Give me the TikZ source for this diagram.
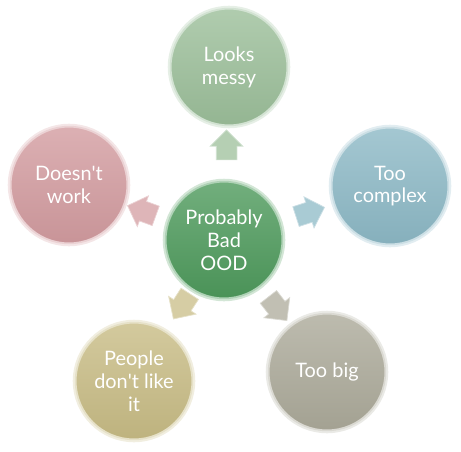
\documentclass[tikz,border=0pt]{standalone}
\usepackage{fontspec}
\setmainfont{Lato}
\usetikzlibrary{shapes.arrows,calc}
\definecolor{oodgreen}{HTML}{4E9A5C}
\definecolor{messygreen}{HTML}{9CBF9A}
\definecolor{complexblue}{HTML}{8DB9C6}
\definecolor{workpink}{HTML}{D39CA0}
\definecolor{peoplekhaki}{HTML}{C8BC85}
\definecolor{biggray}{HTML}{ACAA9A}
\tikzset{
	bubble/.style={circle, minimum size=3.5cm, inner sep=0pt, align=center,
		text=white, font=\fontsize{17}{19.5}\selectfont,
		preaction={draw=#1!25, line width=5pt},
		draw=#1!45!white, line width=1.5pt,
		top color=#1!80!white, bottom color=#1!95!black},
	blockarrow/.style={single arrow, minimum height=0.9cm,
		inner xsep=0.05cm, inner ysep=0.3cm,
		single arrow head extend=0.18cm,
		fill=#1!75!white, draw=#1!45!white, line width=0.6pt}
}
\begin{document}
\begin{tikzpicture}[x=0.03cm,y=-0.03cm]
		\useasboundingbox (0,0) rectangle (461,451);
		\node[bubble=oodgreen](ood) at (224,240){Probably\\Bad\\OOD};
		\node[bubble=messygreen](messy) at (229,67){Looks\\messy};
		\node[bubble=complexblue](complex) at (390,186){Too\\complex};
		\node[bubble=workpink](work) at (69,185){Doesn\textquotesingle t\\work};
		\node[bubble=peoplekhaki](people) at (134,381){People\\don\textquotesingle t like\\it};
		\node[bubble=biggray](big) at (327,372){Too big};
		% arrows out of the centre
		\node[blockarrow=messygreen, rotate=90] (a1) at ($(ood)!0.52!(messy)$){};
		\node[blockarrow=complexblue, rotate=18] (a2) at ($(ood)!0.49!(complex)$){};
		\node[blockarrow=workpink, rotate=160] (a3) at ($(ood)!0.50!(work)$){};
		\node[blockarrow=peoplekhaki, rotate=237] (a4) at ($(ood)!0.44!(people)$){};
		\node[blockarrow=biggray, rotate=-52] (a5) at ($(ood)!0.49!(big)$){};
	\end{tikzpicture}
\end{document}
